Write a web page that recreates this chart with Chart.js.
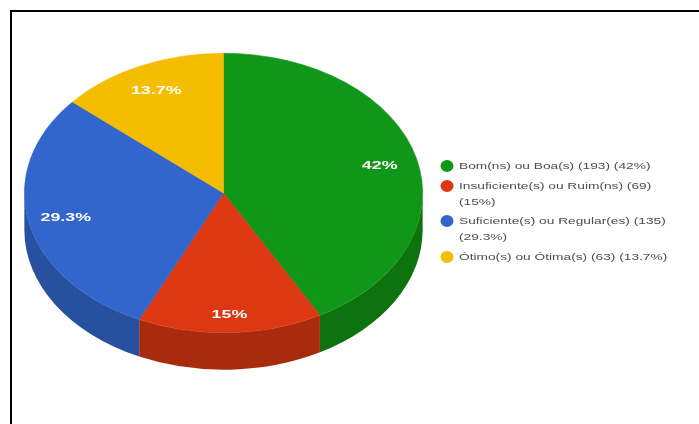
<!DOCTYPE html>
<html>
<head>
<meta charset="utf-8">
<title>Avaliação</title>
<script src="https://cdn.jsdelivr.net/npm/chart.js@4"></script>
<style>
    html, body { margin: 0; padding: 0; background: #fff; overflow: hidden; }
    #wrap { position: relative; width: 699px; height: 424px; }
    #frame { position: absolute; left: 10px; top: 10px; right: 0; bottom: 0; border-top: 2px solid #000; border-left: 2px solid #000; }
    canvas { position: absolute; left: 0; top: 0; }
</style>
</head>
<body>
<div id="wrap">
    <canvas id="chart" width="699" height="424"></canvas>
    <div id="frame"></div>
</div>
<script>
// Slices of the tilted pie and their legend text
const categories = ['Bom(ns) ou Boa(s)', 'Insuficiente(s) ou Ruim(ns)', 'Suficiente(s) ou Regular(es)', 'Ótimo(s) ou Ótima(s)'];
const counts = [193, 69, 135, 63];
const percents = ['42%', '15%', '29.3%', '13.7%'];
const topColors = ['#109618', '#dc3912', '#3366cc', '#f4bd00'];
const sideColors = ['#0c730f', '#a82b0d', '#27519f', '#b98f00'];

// legend entries wrap onto a second line where the text is too long
const legendLines = [
    [categories[0] + ' (' + counts[0] + ') (' + percents[0] + ')'],
    [categories[1] + ' (' + counts[1] + ')', '(' + percents[1] + ')'],
    [categories[2] + ' (' + counts[2] + ')', '(' + percents[2] + ')'],
    [categories[3] + ' (' + counts[3] + ') (' + percents[3] + ')']
];

const stretchX = 199.5 / 140;  // flattening of the pie: x is widened, the chart area sets the height
const depth = 37;

function stretchedText(ctx, text, x, y, font, color, sx, align) {
    ctx.save();
    ctx.font = font;
    ctx.fillStyle = color;
    ctx.textBaseline = 'middle';
    ctx.textAlign = align;
    ctx.translate(x, y);
    ctx.scale(sx, 1);
    ctx.fillText(text, 0, 0);
    ctx.restore();
}

const tiltedPie = {
    id: 'tiltedPie',
    beforeDatasetsDraw: function (chart) {
        const ctx = chart.ctx;
        const arcs = chart.getDatasetMeta(0).data;
        const cx = arcs[0].x;
        const cy = arcs[0].y;
        const r = arcs[0].outerRadius;
        ctx.save();
        ctx.translate(cx, cy);
        ctx.scale(stretchX, 1);
        // rim first, only the front half of the pie shows it
        arcs.forEach(function (arc, i) {
            const a0 = Math.max(arc.startAngle, 0);
            const a1 = Math.min(arc.endAngle, Math.PI);
            if (a1 <= a0) return;
            ctx.beginPath();
            ctx.arc(0, depth, r, a0, a1);
            ctx.arc(0, 0, r, a1, a0, true);
            ctx.closePath();
            ctx.fillStyle = sideColors[i];
            ctx.fill();
        });
        ctx.translate(-cx, -cy);
    },
    afterDatasetsDraw: function (chart) {
        const ctx = chart.ctx;
        ctx.restore();

        // percentages on the slices
        const labelRadius = [0.81, 0.87, 0.81, 0.81];
        chart.getDatasetMeta(0).data.forEach(function (arc, i) {
            const mid = (arc.startAngle + arc.endAngle) / 2;
            const x = arc.x + Math.cos(mid) * arc.outerRadius * labelRadius[i] * stretchX;
            const y = arc.y + Math.sin(mid) * arc.outerRadius * labelRadius[i] + 1;
            stretchedText(ctx, percents[i], x, y, 'bold 10.5px "Liberation Sans"', '#ffffff', 1.7, 'center');
        });

        // legend
        const rows = [166, 186, 221, 257];
        legendLines.forEach(function (lines, i) {
            ctx.beginPath();
            ctx.ellipse(447, rows[i], 6.5, 6, 0, 0, Math.PI * 2);
            ctx.fillStyle = topColors[i];
            ctx.fill();
            lines.forEach(function (line, j) {
                stretchedText(ctx, line, 459, rows[i] + j * 16, '9.5px "Liberation Sans"', '#4d4d4d', 1.445, 'left');
            });
        });
    }
};

new Chart(document.getElementById('chart'), {
    type: 'pie',
    data: {
        labels: categories,
        datasets: [{
            data: counts,
            backgroundColor: topColors,
            borderColor: topColors,
            borderWidth: 0.5,
            clip: false
        }]
    },
    options: {
        responsive: false,
        animation: false,
        events: [],
        layout: { padding: { left: 24, right: 276, top: 53, bottom: 91 } },
        plugins: {
            legend: { display: false },
            tooltip: { enabled: false }
        }
    },
    plugins: [tiltedPie]
});
</script>
</body>
</html>
